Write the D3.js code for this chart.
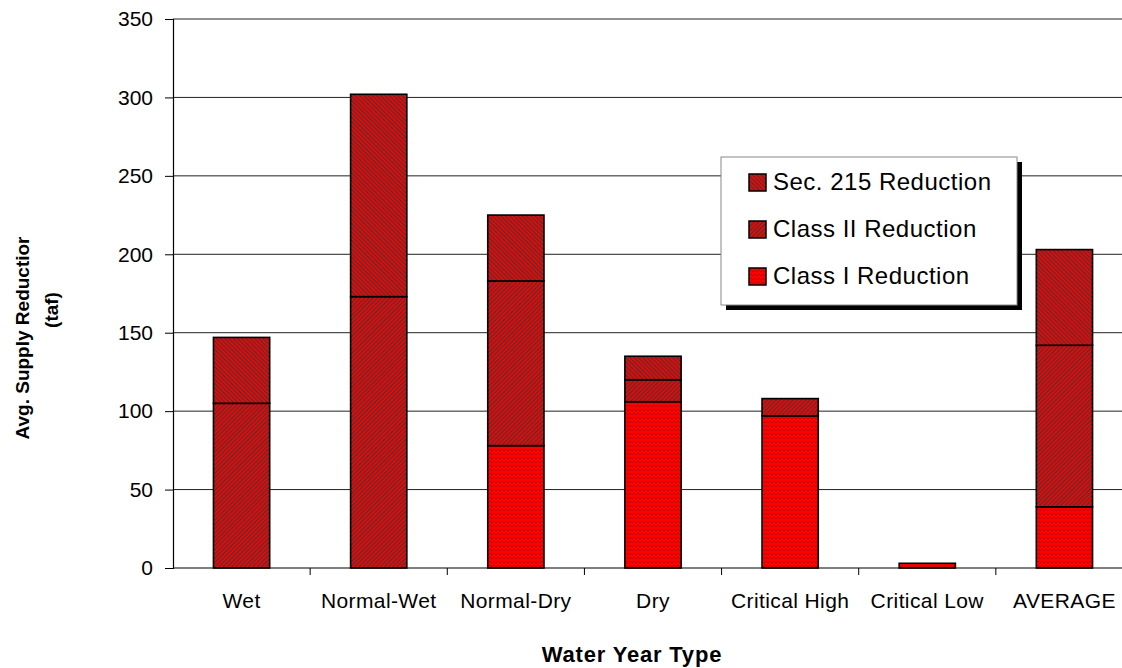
<!DOCTYPE html>
<html>
<head>
<meta charset="utf-8">
<script src="https://cdn.jsdelivr.net/npm/d3@7"></script>
<style>
  html, body { margin: 0; padding: 0; background: #fff; overflow: hidden; }
  svg { display: block; font-family: "Liberation Sans", Arial, sans-serif; }
</style>
</head>
<body>
<svg id="chart" width="1122" height="668"></svg>
<script>
// ---- Data ----
const categories = ["Wet", "Normal-Wet", "Normal-Dry", "Dry", "Critical High", "Critical Low", "AVERAGE"];
const classI   = [0,   0,   78, 106, 97, 3, 39];
const classII  = [105, 173, 105, 14, 11, 0, 103];
const sec215   = [42,  129, 42,  15, 0,  0, 61];
const seriesNames = ["Class I Reduction", "Class II Reduction", "Sec. 215 Reduction"];
const yTicks = [0, 50, 100, 150, 200, 250, 300, 350];
const yTitle = ["Avg. Supply Reductior", "(taf)"];
const xTitle = "Water Year Type";

(function () {
// ---- Setup ----
const svg = d3.select("#chart");
const pLeft = 173, pRight = 1133, pTop = 19, pBottom = 568;

const y = d3.scaleLinear().domain([0, 350]).range([pBottom, pTop]);
const xb = d3.scaleBand().domain(categories).range([pLeft, pRight]).padding(0);
const x = d3.scaleBand().domain(categories).range([pLeft, pRight]).paddingInner(0.59).paddingOuter(0.295);

// ---- Patterns ----
const defs = svg.append("defs");
const stripe = "#3a3a3a", red = "#ff0000";
function hatch(id, angle) {
  const p = defs.append("pattern").attr("id", id).attr("patternUnits", "userSpaceOnUse")
    .attr("width", 3).attr("height", 3).attr("patternTransform", `rotate(${angle})`);
  p.append("rect").attr("width", 3).attr("height", 3).attr("fill", red);
  p.append("rect").attr("width", 1.2).attr("height", 3).attr("fill", stripe);
}
hatch("pSec", -45);
hatch("pII", 45);
(function () {
  const p = defs.append("pattern").attr("id", "pI").attr("patternUnits", "userSpaceOnUse")
    .attr("width", 4).attr("height", 4);
  p.append("rect").attr("width", 4).attr("height", 4).attr("fill", red);
  p.append("path").attr("d", "M0,3 L2,1 L4,3").attr("stroke", "#8a1010").attr("stroke-width", 0.7)
    .attr("fill", "none").attr("opacity", 0.8);
})();
const fills = ["url(#pI)", "url(#pII)", "url(#pSec)"];

// ---- Gridlines ----
svg.append("g").selectAll("line").data(yTicks.filter(d => d > 0)).join("line")
  .attr("x1", pLeft).attr("x2", 1122)
  .attr("y1", d => y(d)).attr("y2", d => y(d))
  .attr("stroke", "#222").attr("stroke-width", 1);

// ---- Y axis ----
const yAxis = svg.append("g").attr("transform", `translate(${pLeft},0)`)
  .call(d3.axisLeft(y).tickValues(yTicks).tickSize(8).tickPadding(12));
yAxis.select(".domain").attr("stroke", "#000").attr("stroke-width", 1.2);
yAxis.selectAll(".tick line").attr("stroke", "#000");
yAxis.selectAll("text").attr("font-size", 21).attr("fill", "#000")
  .attr("font-family", "Liberation Sans, Arial, sans-serif");

// ---- Stacked bars ----
const rows = categories.map((c, i) => ({ cat: c, I: classI[i], II: classII[i], S: sec215[i] }));
const stack = d3.stack().keys(["I", "II", "S"])(rows);
const gBars = svg.append("g");
stack.forEach((layer, k) => {
  gBars.append("g").selectAll("rect").data(layer.filter(d => d[1] - d[0] > 0)).join("rect")
    .attr("x", d => x(d.data.cat))
    .attr("width", x.bandwidth())
    .attr("y", d => y(d[1]))
    .attr("height", d => y(d[0]) - y(d[1]))
    .attr("fill", fills[k])
    .attr("stroke", "#000").attr("stroke-width", 1.6);
});

// ---- X axis ----
svg.append("line").attr("x1", pLeft).attr("x2", 1122).attr("y1", pBottom).attr("y2", pBottom)
  .attr("stroke", "#000").attr("stroke-width", 1.2);
const bounds = categories.map(c => xb(c)).concat([xb(categories[categories.length - 1]) + xb.bandwidth()]);
svg.append("g").selectAll("line").data(bounds.slice(1)).join("line")
  .attr("x1", d => d).attr("x2", d => d).attr("y1", pBottom).attr("y2", pBottom + 7)
  .attr("stroke", "#000");
svg.append("g").selectAll("text").data(categories).join("text")
  .attr("x", d => xb(d) + xb.bandwidth() / 2)
  .attr("y", 608)
  .attr("text-anchor", "middle")
  .attr("font-size", 21)
  .attr("letter-spacing", 0.4)
  .text(d => d);

// ---- Axis titles ----
svg.append("text").attr("x", 632).attr("y", 662).attr("text-anchor", "middle")
  .attr("font-size", 22).attr("font-weight", "bold").attr("letter-spacing", 0.8).text(xTitle);
const yt = svg.append("text").attr("transform", "rotate(-90)")
  .attr("text-anchor", "middle").attr("font-size", 19).attr("font-weight", "bold");
yt.append("tspan").attr("x", -338).attr("y", 29).text(yTitle[0]);
yt.append("tspan").attr("x", -310).attr("y", 58).text(yTitle[1]);

// ---- Legend ----
const lg = svg.append("g").attr("transform", "translate(721,157)");
lg.append("rect").attr("x", 5).attr("y", 5).attr("width", 296).attr("height", 148).attr("fill", "#000");
lg.append("rect").attr("x", 0).attr("y", 0).attr("width", 296).attr("height", 148)
  .attr("fill", "#fff").attr("stroke", "#888").attr("stroke-width", 1);
const legendOrder = [2, 1, 0];
legendOrder.forEach((k, i) => {
  const cy = 25 + i * 47;
  lg.append("rect").attr("x", 28).attr("y", cy - 8).attr("width", 17).attr("height", 17)
    .attr("fill", fills[k]).attr("stroke", "#000").attr("stroke-width", 1.5);
  lg.append("text").attr("x", 52).attr("y", cy).attr("dy", "0.35em")
    .attr("font-size", 24).attr("letter-spacing", 0.5).text(seriesNames[k]);
});
})();
</script>
</body>
</html>
